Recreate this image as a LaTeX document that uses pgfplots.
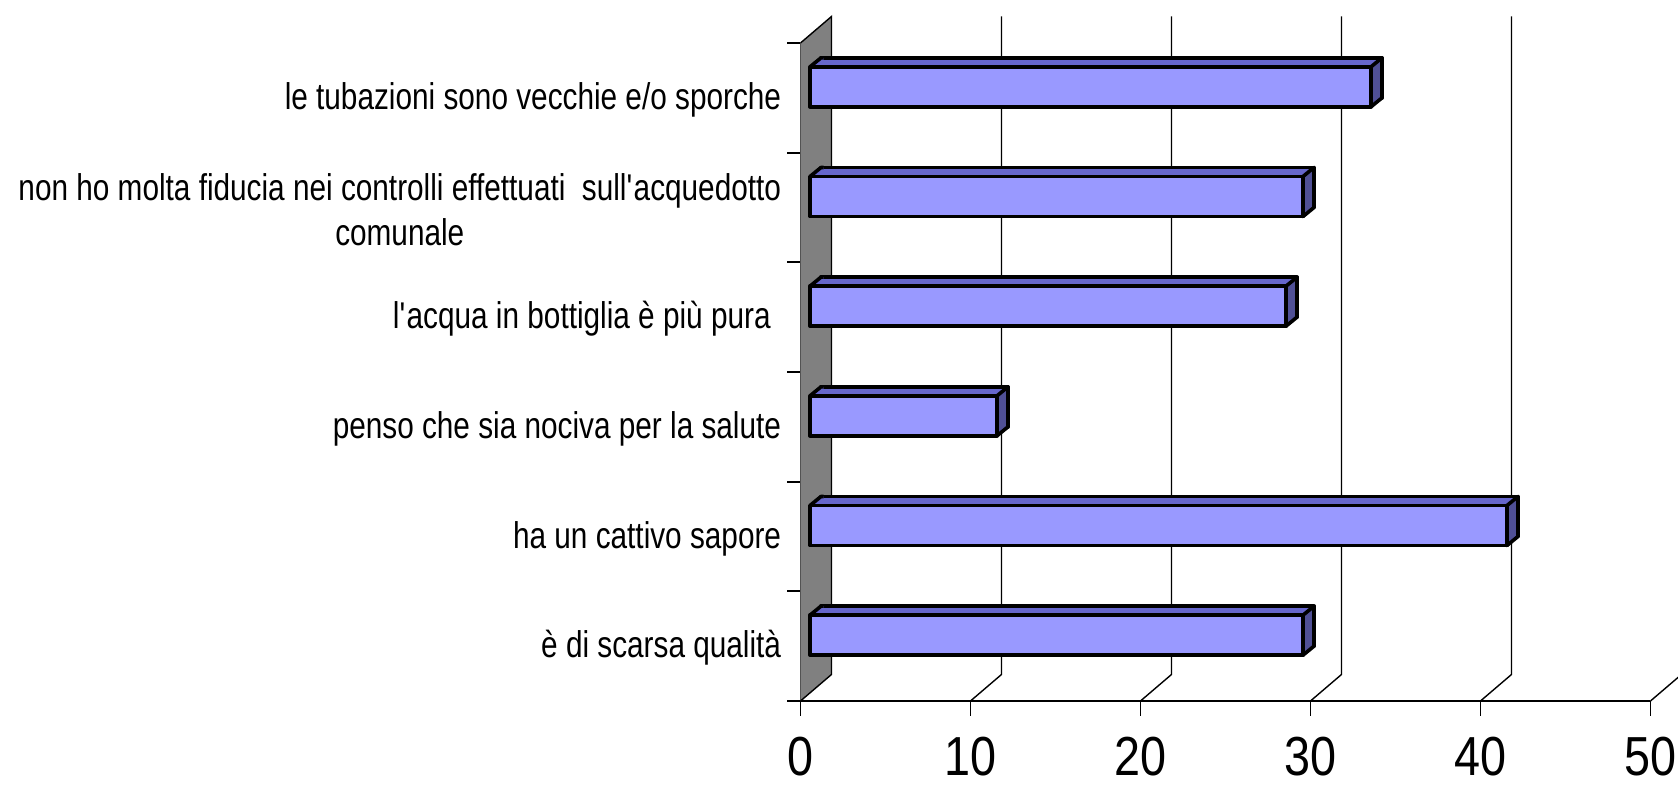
\documentclass[border=0pt]{standalone}
\usepackage{fontspec}
\usepackage{pgfplots}
\pgfplotsset{compat=1.18}
\usepackage{pgfplotstable}
\setmainfont{Liberation Sans}
\newfontfamily\labelfont{Liberation Sans}[FakeStretch=0.8]
\newfontfamily\tickfont{Liberation Sans}[FakeStretch=0.85]
\definecolor{frontcol}{RGB}{153,153,255}
\definecolor{topcol}{RGB}{102,102,204}
\definecolor{sidecol}{RGB}{80,80,150}
\definecolor{wallcol}{RGB}{128,128,128}

\pgfdeclareplotmark{sideface}{%
 \pgfsetroundjoin
 \pgfpathmoveto{\pgfqpoint{0pt}{-10pt}}%
 \pgfpathlineto{\pgfqpoint{0pt}{10pt}}%
 \pgfpathlineto{\pgfqpoint{5.5pt}{14.5pt}}%
 \pgfpathlineto{\pgfqpoint{5.5pt}{-5.5pt}}%
 \pgfpathclose
 \pgfusepathqfillstroke}
\pgfdeclareplotmark{leftcap}{%
 \pgfsetroundjoin
 \pgfpathmoveto{\pgfqpoint{0pt}{-10pt}}%
 \pgfpathlineto{\pgfqpoint{0pt}{10pt}}%
 \pgfpathlineto{\pgfqpoint{5.5pt}{14.5pt}}%
 \pgfpathlineto{\pgfqpoint{6.8pt}{14.5pt}}%
 \pgfpathlineto{\pgfqpoint{6.8pt}{-10pt}}%
 \pgfpathclose
 \pgfusepathqfill
 \pgfpathmoveto{\pgfqpoint{0pt}{10pt}}%
 \pgfpathlineto{\pgfqpoint{5.5pt}{14.5pt}}%
 \pgfpathlineto{\pgfqpoint{6.8pt}{14.5pt}}%
 \pgfusepathqstroke}

\pgfplotstableread{
y v base
0 29 0
1 41 0
2 11 0
3 28 0
4 29 0
5 33 0
}\datatable

\pgfplotsset{base/.style={scale only axis, width=425pt, height=329pt,
  at={(400.25pt,44.5pt)}, anchor=south west, clip=false}}

\begin{document}
\begin{tikzpicture}
\useasboundingbox (0,0) rectangle (839pt,395pt);
\begin{axis}[base,
  xmin=0, xmax=50, ymin=-0.5, ymax=5.5,
  axis lines=left, axis line style={-, line width=0.9pt},
  xtick={0,10,...,50}, xticklabels={0,10,20,30,40,50},
  ytick={0,...,5},
  yticklabels={è di scarsa qualità, ha un cattivo sapore, penso che sia nociva per la salute, l\textquotesingle acqua in bottiglia è più pura\kern0.28em, {non ho molta fiducia nei controlli effettuati\ \ sull\textquotesingle acquedotto\\comunale}, le tubazioni sono vecchie e/o sporche},
  minor ytick={-0.5,0.5,...,5.5},
  tick align=outside, major tick length=7.5pt, minor tick length=6.5pt,
  tick style={black, line width=0.9pt},
  major y tick style={draw=none},
  minor y tick style={draw=black, line width=0.9pt},
  xticklabel style={font={\tickfont\fontsize{27.5pt}{30pt}\selectfont}, inner sep=0pt, anchor=north, yshift=-10.5pt},
  yticklabel style={font={\labelfont\fontsize{18.6pt}{22.5pt}\selectfont}, align=center, inner sep=0pt, anchor=east, xshift=-2pt, yshift=-1pt},
]
\fill[wallcol] (axis cs:0,-0.5) -- (axis cs:1.8235,-0.2584) -- (axis cs:1.8235,5.7416) -- (axis cs:0,5.5) -- cycle;
\draw[line width=0.7pt] (axis cs:0,5.5) -- (axis cs:1.8235,5.7416) -- (axis cs:1.8235,-0.2584) -- (axis cs:0,-0.5);
\draw[line width=0.7pt] (axis cs:10,-0.5) -- (axis cs:11.8235,-0.2584) -- (axis cs:11.8235,5.7416);
\draw[line width=0.7pt] (axis cs:20,-0.5) -- (axis cs:21.8235,-0.2584) -- (axis cs:21.8235,5.7416);
\draw[line width=0.7pt] (axis cs:30,-0.5) -- (axis cs:31.8235,-0.2584) -- (axis cs:31.8235,5.7416);
\draw[line width=0.7pt] (axis cs:40,-0.5) -- (axis cs:41.8235,-0.2584) -- (axis cs:41.8235,5.7416);
\draw[line width=0.7pt] (axis cs:50,-0.5) -- (axis cs:51.8235,-0.2584) -- (axis cs:51.8235,5.7416);
\end{axis}
\begin{axis}[base, hide axis, xmin=-1.2059, xmax=48.7941, ymin=-0.6824, ymax=5.3176]
\addplot[xbar, bar width=20pt, bar shift=0pt, fill=topcol, draw=black, line width=1.8pt, line join=round] table[x=v,y=y]{\datatable};
\end{axis}
\begin{axis}[base, hide axis, xmin=-0.5588, xmax=49.4412, ymin=-0.6003, ymax=5.3997]
\addplot[only marks, mark=leftcap, mark options={fill=topcol, draw=black, line width=1.8pt}] table[x=base,y=y]{\datatable};
\addplot[only marks, mark=sideface, mark options={fill=sidecol, draw=black, line width=1.8pt}] table[x=v,y=y]{\datatable};
\end{axis}
\begin{axis}[base, hide axis, xmin=-0.5588, xmax=49.4412, ymin=-0.6003, ymax=5.3997]
\addplot[xbar, bar width=20pt, bar shift=0pt, fill=frontcol, draw=black, line width=1.8pt, line join=round] table[x=v,y=y]{\datatable};
\end{axis}
\end{tikzpicture}
\end{document}
